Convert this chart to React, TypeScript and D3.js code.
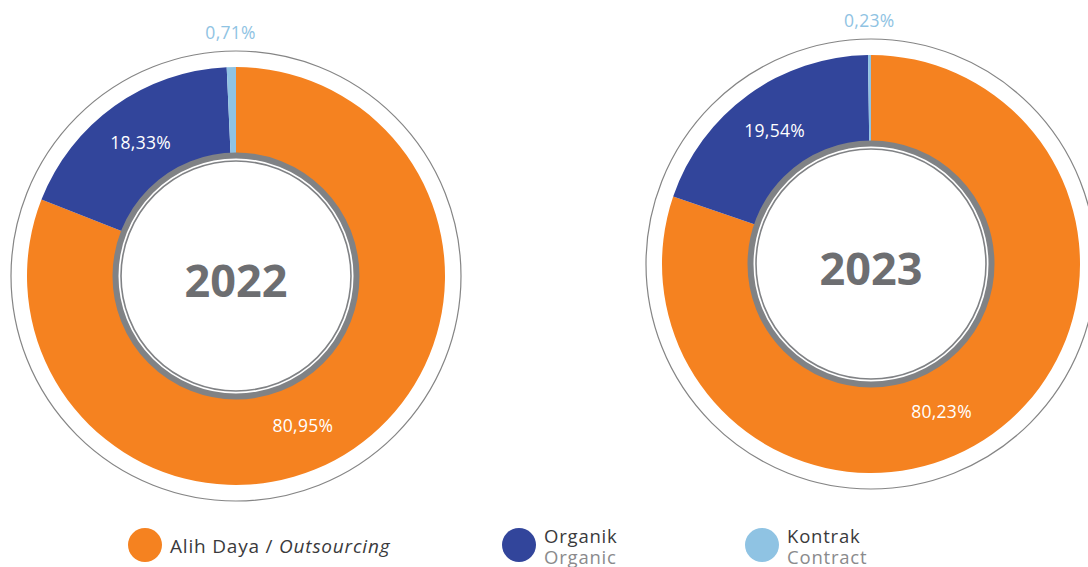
import React from 'react';
import * as d3 from 'd3';

// chart data
const categories = ['Alih Daya', 'Organik', 'Kontrak'];
const categoriesEn = ['Outsourcing', 'Organic', 'Contract'];
const years = ['2022', '2023'];
const values2022 = [80.95, 18.33, 0.71];
const values2023 = [80.23, 19.54, 0.23];
const colors = ['#f58220', '#32459b', '#8fc3e3'];

const width = 1088;
const height = 567;
const font = "'Open Sans', sans-serif";
// where along each slice the label sits (0 = start, 1 = end)
const labelFrac = [0.535, 0.5, 0.5];

const fmt = (v: number) => v.toFixed(2).replace('.', ',') + '%';

const Donut = ({ cx, cy, values, year }: { cx: number; cy: number; values: number[]; year: string }) => {
  const outerR = 209;
  const innerR = 121;
  const pie = d3.pie<number>().sort(null).value(d => d).startAngle(0).endAngle(2 * Math.PI);
  const arcs = pie(values);
  const arc = d3.arc<d3.PieArcDatum<number>>().innerRadius(innerR).outerRadius(outerR);

  return (
    <g transform={`translate(${cx},${cy})`}>
      <circle r={225} fill="none" stroke="#858585" strokeWidth={1.2} />
      {arcs.map((a, i) => (
        <path key={i} d={arc(a) || ''} fill={colors[i]} />
      ))}
      <circle r={120.5} fill="#fff" stroke="#808285" strokeWidth={6} />
      <circle r={115} fill="none" stroke="#808285" strokeWidth={1.6} />
      <text
        y={5}
        dy="0.36em"
        textAnchor="middle"
        fontFamily={font}
        fontWeight={700}
        fontSize={45}
        fill="#6d6e71"
      >
        {year}
      </text>
      {arcs.map((a, i) => {
        const small = a.endAngle - a.startAngle < 0.1;
        const ang = small
          ? (a.startAngle + a.endAngle) / 2
          : a.startAngle + (a.endAngle - a.startAngle) * labelFrac[i];
        const r = small ? 243 : 164;
        const x = Math.sin(ang) * r;
        const y = -Math.cos(ang) * r;
        return (
          <text
            key={'l' + i}
            x={x}
            y={y}
            dy="0.35em"
            textAnchor="middle"
            fontFamily={font}
            fontSize={17.5}
            letterSpacing={0.3}
            fill={small ? colors[i] : '#ffffff'}
          >
            {fmt(a.data)}
          </text>
        );
      })}
    </g>
  );
};

const App = () => {
  const legendX = [145, 519, 762];
  return (
    <svg
      width={width}
      height={height}
      style={{ position: 'absolute', left: 0, top: 0, background: '#fff' }}
    >
      <Donut cx={236} cy={276} values={values2022} year={years[0]} />
      <Donut cx={871} cy={264} values={values2023} year={years[1]} />
      {categories.map((c, i) => (
        <g key={c} transform={`translate(${legendX[i]},545)`}>
          <circle r={17} fill={colors[i]} />
          {i === 0 ? (
            <text x={25} y={8} fontFamily={font} fontSize={19} letterSpacing={0.8} fill="#3a3a3c">
              {c} / <tspan fontStyle="italic">{categoriesEn[i]}</tspan>
            </text>
          ) : (
            <>
              <text x={25} y={-2} fontFamily={font} fontSize={18.5} letterSpacing={0.8} fill="#3a3a3c">{c}</text>
              <text x={25} y={19} fontFamily={font} fontSize={18.5} letterSpacing={0.8} fill="#8a8a8c">{categoriesEn[i]}</text>
            </>
          )}
        </g>
      ))}
    </svg>
  );
};

export default App;
